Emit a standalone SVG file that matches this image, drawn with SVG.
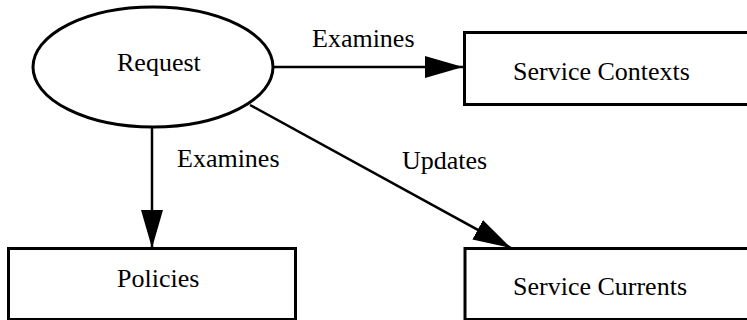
<svg xmlns="http://www.w3.org/2000/svg" width="747" height="320" viewBox="0 0 747 320">
<style>
.shape{fill:#fff;stroke:#000;stroke-width:3}
.lbl{font-family:"Liberation Serif","Times New Roman",serif;font-size:26px;fill:#000}
.edge{fill:none;stroke:#000;stroke-width:2.5}
</style>
<defs>
<marker id="arr" markerUnits="userSpaceOnUse" markerWidth="40" markerHeight="24" refX="38" refY="11" orient="auto">
<path d="M0,0 L38,11 L0,22 z" fill="#000"/>
</marker>
</defs>
<rect width="747" height="320" fill="#fff"/>
<g id="edges">
<line class="edge" x1="273" y1="67" x2="463" y2="67" marker-end="url(#arr)"/>
<line class="edge" x1="152" y1="127" x2="152" y2="248" marker-end="url(#arr)"/>
<line class="edge" x1="250" y1="105" x2="511" y2="248" marker-end="url(#arr)"/>
<text class="lbl" x="312" y="47">Examines</text>
<text class="lbl" x="177" y="167">Examines</text>
<text class="lbl" x="402" y="169">Updates</text>
</g>
<g id="request">
<ellipse class="shape" cx="153" cy="67" rx="120" ry="60"/>
<text class="lbl" x="117" y="71">Request</text>
</g>
<g id="service-contexts">
<rect class="shape" x="464.5" y="32.5" width="300" height="72"/>
<text class="lbl" x="513" y="80">Service Contexts</text>
</g>
<g id="policies">
<rect class="shape" x="8.5" y="248.5" width="287" height="71"/>
<text class="lbl" x="117" y="287">Policies</text>
</g>
<g id="service-currents">
<rect class="shape" x="465" y="248.5" width="300" height="71"/>
<text class="lbl" x="513" y="295">Service Currents</text>
</g>
</svg>
